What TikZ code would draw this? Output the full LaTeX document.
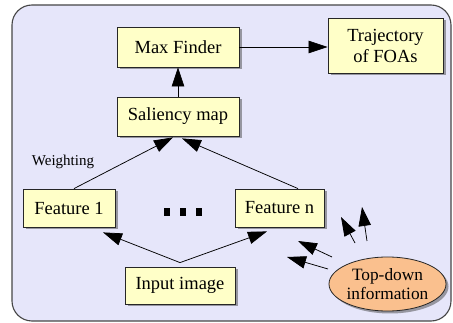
\documentclass[tikz,border=0pt]{standalone}
\usepackage{fontspec}
\setmainfont{Liberation Serif}
\usetikzlibrary{arrows.meta,shadows,calc,shapes.geometric}
\definecolor{bgfill}{RGB}{230,230,250}
\definecolor{boxfill}{RGB}{255,255,200}
\definecolor{ellfill}{RGB}{250,192,142}
\definecolor{shadowgray}{RGB}{150,150,160}
\tikzset{
  stepbox/.style={draw=black!85, line width=0.8pt, fill=boxfill, inner sep=0pt,
    align=center, font=\fontsize{18.5}{21}\selectfont,
    drop shadow={shadow xshift=2.5pt, shadow yshift=-2.5pt, fill=shadowgray, opacity=1}},
  infoell/.style={ellipse, draw=black!85, line width=0.8pt, fill=ellfill, inner sep=0pt,
    align=center, font=\fontsize{17.3}{19}\selectfont,
    drop shadow={shadow xshift=2.5pt, shadow yshift=-2.5pt, fill=shadowgray, opacity=1}},
  conn/.style={line width=0.75pt, -{Triangle[length=19pt,width=12.5pt]}},
}
\begin{document}
\begin{tikzpicture}[x=1pt,y=-1pt]
\useasboundingbox (0,0) rectangle (453,323);
\draw[draw={rgb,255:red,70;green,70;blue,70}, line width=1.1pt, fill=bgfill, rounded corners=20pt] (12,5) rectangle (451,321);

\node[stepbox, minimum width=122pt, minimum height=40pt] (maxf) at (178,47) {Max Finder};
\node[stepbox, minimum width=115pt, minimum height=55pt] (traj) at (385.5,45.5) {Trajectory\\of FOAs};
\node[stepbox, minimum width=122pt, minimum height=39pt] (sal) at (178,116.5) {Saliency map};
\node[stepbox, minimum width=92pt, minimum height=38pt] (f1) at (69,208) {Feature 1};
\node[stepbox, minimum width=89pt, minimum height=38pt] (fn) at (279.5,208) {Feature n};
\node[stepbox, minimum width=110pt, minimum height=37pt] (inp) at (180,285.5) {Input image};
\node[infoell, minimum width=117pt, minimum height=54pt] (td) at (387.5,284) {Top-down\\information};

\node[font=\fontsize{15}{17}\selectfont, inner sep=0pt] (wt) at (63,162) {Weighting};

\foreach \cx in {167,183,199}
  \fill[black] (\cx-3.2,208) rectangle (\cx+3.2,216);

\draw[conn] (maxf.east) -- (maxf.east -| traj.west);
\draw[conn] (sal.north) -- (maxf.south);
\draw[conn] ([xshift=5pt]f1.north) -- ([xshift=-5pt,yshift=-1pt]sal.south);
\draw[conn] ([xshift=18.5pt]fn.north) -- ([xshift=4pt,yshift=-2pt]sal.south);

\coordinate (split) at ([yshift=4pt]inp.north);
\draw[conn] (split) -- ([xshift=34pt,yshift=-5pt]f1.south);
\draw[conn] (split) -- ([xshift=-12.5pt,yshift=-4pt]fn.south);

\coordinate (s1) at (328,269); \coordinate (t1) at (287,257);
\coordinate (s2) at (332,257); \coordinate (t2) at (298,241);
\coordinate (s3) at (355,243); \coordinate (t3) at (341,217);
\coordinate (s4) at (367,241); \coordinate (t4) at (362,207);
\draw[conn] (s1) -- (t1);
\draw[conn] (s2) -- (t2);
\draw[conn] (s3) -- (t3);
\draw[conn] (s4) -- (t4);
\end{tikzpicture}
\end{document}
